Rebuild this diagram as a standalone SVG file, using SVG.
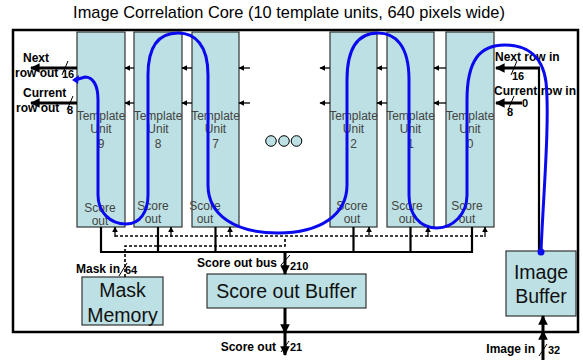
<svg xmlns="http://www.w3.org/2000/svg" width="583" height="360" viewBox="0 0 583 360">
<style>
text{font-family:"Liberation Sans",Arial,sans-serif;}
.box{fill:#bce0e3;stroke:#333;stroke-width:1.2;}
.ut{font-size:12px;fill:#444;text-anchor:middle;}
.lbl{font-size:12px;fill:#000;font-weight:bold;}
.num{font-size:11px;fill:#000;font-weight:bold;}
.big{font-size:19.5px;fill:#111;text-anchor:middle;}
.thin{stroke:#000;stroke-width:1.3;fill:none;}
.bus{stroke:#000;stroke-width:2.2;fill:none;}
.thick{stroke:#000;stroke-width:3;fill:none;}
.dash{stroke:#000;stroke-width:1.6;fill:none;stroke-dasharray:3,2;}
.sl{stroke:#000;stroke-width:1;}
</style>
<defs>
<marker id="ah" viewBox="0 0 10 10" refX="9" refY="5" markerWidth="3.2" markerHeight="3.2" orient="auto" markerUnits="strokeWidth"><path d="M0,0 L10,5 L0,10 z" fill="#000"/></marker>
<marker id="ahs" viewBox="0 0 10 10" refX="9" refY="5" markerWidth="6" markerHeight="6" orient="auto" markerUnits="userSpaceOnUse"><path d="M0,0 L10,5 L0,10 z" fill="#000"/></marker>
</defs>
<text x="289" y="18" style="font-size:16.4px" text-anchor="middle">Image Correlation Core (10 template units, 640 pixels wide)</text>
<rect x="13" y="30" width="565" height="302" fill="none" stroke="#000" stroke-width="2.5"/>

<g id="unit9"><rect class="box" x="77" y="32" width="48" height="195"/><text class="ut" x="101" y="120">Template</text><text class="ut" x="101" y="133">Unit</text><text class="ut" x="101" y="148">9</text><text class="ut" x="100" y="212">Score</text><text class="ut" x="100" y="225">out</text></g>
<g id="unit8"><rect class="box" x="134" y="32" width="48" height="195"/><text class="ut" x="158" y="120">Template</text><text class="ut" x="158" y="133">Unit</text><text class="ut" x="158" y="148">8</text><text class="ut" x="153" y="210">Score</text><text class="ut" x="153" y="223">out</text></g>
<g id="unit7"><rect class="box" x="192" y="32" width="47" height="195"/><text class="ut" x="215.5" y="120">Template</text><text class="ut" x="215.5" y="133">Unit</text><text class="ut" x="215.5" y="148">7</text><text class="ut" x="205" y="210">Score</text><text class="ut" x="205" y="223">out</text></g>
<g id="unit2"><rect class="box" x="330" y="32" width="47" height="195"/><text class="ut" x="353.5" y="120">Template</text><text class="ut" x="353.5" y="133">Unit</text><text class="ut" x="353.5" y="148">2</text><text class="ut" x="352" y="210">Score</text><text class="ut" x="352" y="223">out</text></g>
<g id="unit1"><rect class="box" x="387" y="32" width="47" height="195"/><text class="ut" x="410.5" y="120">Template</text><text class="ut" x="410.5" y="133">Unit</text><text class="ut" x="410.5" y="148">1</text><text class="ut" x="407" y="210">Score</text><text class="ut" x="407" y="223">out</text></g>
<g id="unit0"><rect class="box" x="446" y="32" width="48" height="195"/><text class="ut" x="470" y="120">Template</text><text class="ut" x="470" y="133">Unit</text><text class="ut" x="470" y="148">0</text><text class="ut" x="467" y="210">Score</text><text class="ut" x="467" y="223">out</text></g>

<g id="ellipsis"><circle cx="271" cy="141" r="5.3" fill="#bce0e3" stroke="#000" stroke-width="1"/><circle cx="284" cy="141" r="5.3" fill="#bce0e3" stroke="#000" stroke-width="1"/><circle cx="296.5" cy="141" r="5.3" fill="#bce0e3" stroke="#000" stroke-width="1"/></g>

<g id="maskmem"><rect class="box" x="82" y="277" width="81" height="48"/><text class="big" x="122.5" y="297">Mask</text><text class="big" x="122.5" y="322">Memory</text></g>
<g id="scorebuf"><rect class="box" x="207" y="274" width="159" height="34"/><text class="big" x="286.5" y="298">Score out Buffer</text></g>
<g id="imagebuf"><rect class="box" x="506" y="251" width="70" height="65"/><text class="big" x="541" y="279">Image</text><text class="big" x="541" y="303">Buffer</text></g>

<g id="connectors">
<g class="thin">
<line x1="134" y1="68" x2="125" y2="68" marker-end="url(#ahs)"/><line x1="134" y1="103" x2="125" y2="103" marker-end="url(#ahs)"/>
<line x1="192" y1="68" x2="182" y2="68" marker-end="url(#ahs)"/><line x1="192" y1="103" x2="182" y2="103" marker-end="url(#ahs)"/>
<line x1="250" y1="68" x2="239" y2="68" marker-end="url(#ahs)"/><line x1="250" y1="103" x2="239" y2="103" marker-end="url(#ahs)"/>
<line x1="330" y1="68" x2="320" y2="68" marker-end="url(#ahs)"/><line x1="330" y1="103" x2="320" y2="103" marker-end="url(#ahs)"/>
<line x1="387" y1="68" x2="377" y2="68" marker-end="url(#ahs)"/><line x1="387" y1="103" x2="377" y2="103" marker-end="url(#ahs)"/>
<line x1="446" y1="68" x2="434" y2="68" marker-end="url(#ahs)"/><line x1="446" y1="103" x2="434" y2="103" marker-end="url(#ahs)"/>
</g>
<line class="thick" x1="77" y1="68" x2="31" y2="68" marker-end="url(#ah)"/>
<line class="sl" x1="62" y1="75" x2="68" y2="61"/>
<line class="thick" x1="77" y1="103" x2="31" y2="103" marker-end="url(#ah)"/>
<line class="sl" x1="67" y1="110" x2="73" y2="96"/>
<text class="lbl" x="23" y="62">Next</text><text class="lbl" x="15" y="77">row out</text><text class="num" x="62" y="78">16</text>
<text class="lbl" x="23" y="97">Current</text><text class="lbl" x="16" y="112">row out</text><text class="num" x="67" y="114">8</text>
<line class="bus" x1="539" y1="68" x2="539" y2="251"/>
<line class="thick" x1="540" y1="68" x2="496" y2="68" marker-end="url(#ah)"/>
<line class="sl" x1="511" y1="75" x2="517" y2="61"/>
<line class="thick" x1="522" y1="103" x2="496" y2="103" marker-end="url(#ah)"/>
<line class="sl" x1="508" y1="110" x2="514" y2="96"/>
<text class="lbl" x="495" y="61">Next row in</text><text class="num" x="512" y="80">16</text>
<text class="lbl" x="494" y="95">Current row in</text><text class="num" x="522" y="107">0</text><text class="num" x="507" y="116">8</text>
<path class="bus" d="M101,227 V252 M158,227 V252 M215.5,227 V252 M353.5,227 V252 M410.5,227 V252 M472,227 V252 M100,252 H473"/>
<path class="dash" d="M115,236 H485"/>
<path class="dash" d="M125,277 V246 H285 V237"/>
<g class="thin">
<line x1="115" y1="237" x2="115" y2="227" marker-end="url(#ahs)"/>
<line x1="171" y1="237" x2="171" y2="227" marker-end="url(#ahs)"/>
<line x1="230" y1="237" x2="230" y2="227" marker-end="url(#ahs)"/>
<line x1="369" y1="237" x2="369" y2="227" marker-end="url(#ahs)"/>
<line x1="428" y1="237" x2="428" y2="227" marker-end="url(#ahs)"/>
<line x1="485" y1="237" x2="485" y2="227" marker-end="url(#ahs)"/>
</g>
<text class="lbl" x="76" y="273">Mask in</text><line class="sl" x1="119" y1="276" x2="127" y2="263"/><text class="num" x="125" y="274">64</text>
<line class="thick" x1="285" y1="252" x2="285" y2="274" marker-end="url(#ah)"/>
<line class="sl" x1="281" y1="265" x2="290" y2="255"/>
<text class="lbl" x="277" y="267" text-anchor="end">Score out bus</text><text class="num" x="290" y="270">210</text>
<line class="thick" x1="285" y1="308" x2="285" y2="333" marker-end="url(#ah)"/>
<line class="thick" x1="285" y1="330" x2="285" y2="355" marker-end="url(#ah)"/>
<line class="sl" x1="281" y1="352" x2="289" y2="341"/>
<text class="lbl" x="276" y="351" text-anchor="end">Score out</text><text class="num" x="290" y="351">21</text>
<line class="thick" x1="543" y1="360" x2="543" y2="331" marker-end="url(#ah)"/>
<line class="thick" x1="543" y1="334" x2="543" y2="316" marker-end="url(#ah)"/>
<line class="sl" x1="539" y1="356" x2="547" y2="344"/>
<text class="lbl" x="535" y="353" text-anchor="end">Image in</text><text class="num" x="548" y="354">32</text>
<path d="M541,252 C543,200 550,120 546,82 C542,52 522,45 505,45 C480,45 467,60 467,100 L467,195 C467,215 452,228 437,228 C420,228 409,215 409,195 L409,80 C409,45 395,33 378,33 C360,33 347,45 347,80 L347,185 C347,215 320,233 278,233 C235,233 208,215 208,185 L208,75 C208,45 195,33 178,33 C160,33 148,45 148,75 L148,195 C148,212 140,224 126,224 C110,224 98,212 98,195 L98,100 C98,85 93,77 85,77 L75,80" fill="none" stroke="#0a0aee" stroke-width="3"/>
<path d="M72,80 L79,75 L78,84 z" fill="#0a0aee"/>
<circle cx="541" cy="252" r="3.5" fill="#0a0aee"/>
</g>
</svg>
